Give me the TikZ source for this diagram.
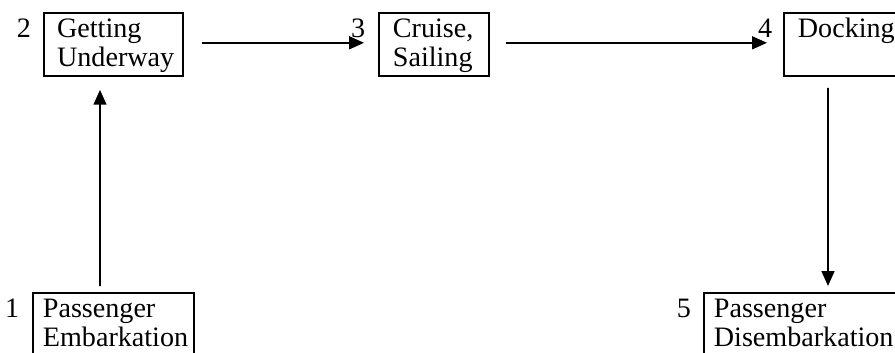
\documentclass[tikz,border=0pt]{standalone}
\usepackage{fontspec}
\setmainfont{Liberation Serif}
\usetikzlibrary{arrows.meta}

\begin{document}
\begin{tikzpicture}[->,>={Triangle[length=0.37cm,width=0.32cm]},line width=1.3pt,
  stage node/.style={draw,rectangle,align=left,inner xsep=0.25cm,inner ysep=0pt,text height=0.625cm,text depth=0.95cm,anchor=north west,font=\fontsize{20}{20.5}\selectfont,execute at begin node={\hyphenpenalty=10000 }},
  num node/.style={anchor=base east,inner sep=0pt,font=\fontsize{20}{20.5}\selectfont}]

      \useasboundingbox (0,0) rectangle (22.375,-8.8);
      \clip (0,0) rectangle (22.375,-8.8);

      \node[stage node, text width=3.525cm] at (0.8,-7.3) (1) {Passenger\\ Embarkation};
      \node[stage node, inner xsep=0.33cm, text width=2.815cm] at (1.075,-0.3) (2) {Getting\\ Underway};
      \node[stage node, inner xsep=0.35cm, text width=2.05cm] at (9.45,-0.3) (3) {Cruise,\\ Sailing};
      \node[stage node, inner xsep=0.35cm, text width=2.8cm] at (19.575,-0.3) (4) {Docking};
      \node[stage node, text width=4.6cm] at (17.575,-7.3) (5) {Passenger\\ Disembarkation};

      \node[num node] at ([xshift=-0.3cm,yshift=-0.625cm]1.north west) (n1) {1};
      \node[num node] at ([xshift=-0.28cm,yshift=-0.625cm]2.north west) (n2) {2};
      \node[num node] at ([xshift=-0.3cm,yshift=-0.625cm]3.north west) (n3) {3};
      \node[num node] at ([xshift=-0.25cm,yshift=-0.625cm]4.north west) (n4) {4};
      \node[num node] at ([xshift=-0.28cm,yshift=-0.625cm]5.north west) (n5) {5};

      \draw ([xshift=1.7cm,yshift=0.15cm]1.north west) -- ([xshift=1.425cm,yshift=-0.325cm]2.south west);
      \draw ([xshift=0.45cm,yshift=0.04cm]2.east) -- ([xshift=-0.35cm,yshift=0.04cm]3.west);
      \draw ([xshift=0.4cm,yshift=0.04cm]3.east) -- ([xshift=-0.4cm,yshift=0.04cm]4.west);
      \draw ([xshift=1.125cm,yshift=-0.275cm]4.south west) -- ([xshift=3.125cm,yshift=0.15cm]5.north west);

    \end{tikzpicture}
\end{document}
